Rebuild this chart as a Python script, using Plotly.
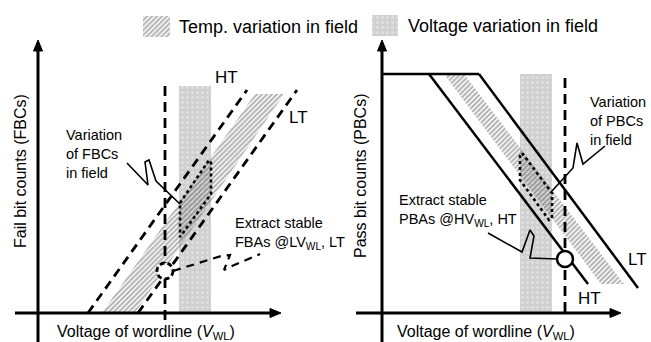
import plotly.graph_objects as go

FONT = "Liberation Sans, Arial, sans-serif"

# ---- schematic geometry (pixel-like data coordinates, y downward) ----
# Left panel (FBCs)
L_axis_x = [38, 38]; L_axis_y = [342, 40]
L_xaxis_x = [15, 281]; L_xaxis_y = [313, 313]
L_vband_x = [179, 211, 211, 179, 179]; L_vband_y = [86, 86, 313, 313, 86]
L_tband_x = [102, 135, 284, 255, 102]; L_tband_y = [313, 313, 94, 94, 313]
L_ht_x = [88, 247]; L_ht_y = [313, 90]
L_lt_x = [138, 297]; L_lt_y = [313, 90]
L_vline_x = [165, 165]; L_vline_y = [86, 320]
L_dot_x = [180, 209, 211, 211, 180, 180]; L_dot_y = [203, 160, 163, 194, 237, 203]
L_call1_x = [127, 148, 145, 149, 156, 180]; L_call1_y = [163, 185, 162, 160, 181, 204]
L_call2_x = [173, 221, 230, 224, 232, 260]; L_call2_y = [271, 256, 255, 270, 266, 254]
L_circle = (165, 271, 8)

# Right panel (PBCs)
R_axis_x = [382, 382]; R_axis_y = [342, 40]
R_xaxis_x = [356, 621]; R_xaxis_y = [313, 313]
R_vband_x = [520, 552, 552, 520, 520]; R_vband_y = [74, 74, 313, 313, 74]
R_tband_x = [444, 464, 624, 601, 444]; R_tband_y = [74, 74, 284, 284, 74]
R_plateau_x = [382, 479]; R_plateau_y = [74, 74]
R_ht_x = [429, 588]; R_ht_y = [74, 284]
R_lt_x = [479, 638]; R_lt_y = [74, 288]
R_vline_x = [565, 565]; R_vline_y = [78, 313]
R_dot_x = [522, 552, 552, 549, 520, 520, 522]; R_dot_y = [153, 193, 218, 220, 180, 156, 153]
R_call1_x = [552, 573, 577, 583, 605]; R_call1_y = [191, 168, 143, 164, 146]
R_call2_x = [488, 522, 530, 534, 530, 558]; R_call2_y = [233, 252, 230, 236, 258, 259]
R_circle = (565, 259, 8)

# Legend swatches
LG_t_x = [143, 170, 170, 143, 143]; LG_t_y = [16, 16, 37, 37, 16]
LG_v_x = [372, 398, 398, 372, 372]; LG_v_y = [15, 15, 36, 36, 15]

HATCH = dict(shape="/", fgcolor="#5e5e5e", size=3.5, solidity=0.55)
DOTS = dict(shape=".", bgcolor="#d0d0d0", fgcolor="#f2f2f2", size=5, solidity=0.25)
HEAD_LEN, HEAD_HALF = 11, 4.5

fig = go.Figure()

def poly(x, y, pattern):
    fig.add_trace(go.Scatter(x=x, y=y, mode="lines", fill="toself",
                             line=dict(width=0, color="rgba(0,0,0,0)"),
                             fillcolor="rgba(0,0,0,0)", fillpattern=pattern,
                             hoverinfo="skip"))

def line(x, y, width=2.5, dash="solid", color="black"):
    fig.add_trace(go.Scatter(x=x, y=y, mode="lines",
                             line=dict(width=width, dash=dash, color=color),
                             hoverinfo="skip"))

# bands
poly(L_vband_x, L_vband_y, DOTS)
poly(L_tband_x, L_tband_y, HATCH)
poly(R_vband_x, R_vband_y, DOTS)
poly(R_tband_x, R_tband_y, HATCH)
poly(LG_t_x, LG_t_y, HATCH)
poly(LG_v_x, LG_v_y, DOTS)

# left panel lines
line(L_ht_x, L_ht_y, 2.8, "9px,6px")
line(L_lt_x, L_lt_y, 2.8, "9px,6px")
line(L_vline_x, L_vline_y, 2.8, "10px,6px")
line(L_dot_x, L_dot_y, 2.6, "dot")
line(L_call1_x, L_call1_y, 1.6)
line(L_call2_x, L_call2_y, 2.2, "8px,6px")

# right panel lines
line(R_plateau_x, R_plateau_y, 2.5)
line(R_ht_x, R_ht_y, 2.5)
line(R_lt_x, R_lt_y, 2.5)
line(R_vline_x, R_vline_y, 2.8, "10px,6px")
line(R_dot_x, R_dot_y, 2.6, "dot")
line(R_call1_x, R_call1_y, 1.6)
line(R_call2_x, R_call2_y, 1.6)

# axes: shafts + filled triangular arrowheads derived from the axis end points
for ax_x, ax_y in [(L_axis_x, L_axis_y), (L_xaxis_x, L_xaxis_y),
                   (R_axis_x, R_axis_y), (R_xaxis_x, R_xaxis_y)]:
    tx, ty = ax_x[1], ax_y[1]
    if ax_x[0] == ax_x[1]:  # vertical axis, arrow points up
        sx, sy = [ax_x[0], tx], [ax_y[0], ty + HEAD_LEN - 1]
        hx = [tx, tx - HEAD_HALF, tx + HEAD_HALF, tx]
        hy = [ty, ty + HEAD_LEN, ty + HEAD_LEN, ty]
    else:  # horizontal axis, arrow points right
        sx, sy = [ax_x[0], tx - HEAD_LEN + 1], [ax_y[0], ty]
        hx = [tx, tx - HEAD_LEN, tx - HEAD_LEN, tx]
        hy = [ty, ty - HEAD_HALF, ty + HEAD_HALF, ty]
    line(sx, sy, 3)
    fig.add_trace(go.Scatter(x=hx, y=hy, mode="lines", fill="toself",
                             line=dict(width=1, color="black"), fillcolor="black",
                             hoverinfo="skip"))

# circles
cx, cy, r = L_circle
fig.add_shape(type="circle", xref="x", yref="y", x0=cx - r, x1=cx + r, y0=cy - r, y1=cy + r,
              line=dict(color="black", width=2.8, dash="5px,3px"), fillcolor="white")
cx, cy, r = R_circle
fig.add_shape(type="circle", xref="x", yref="y", x0=cx - r, x1=cx + r, y0=cy - r, y1=cy + r,
              line=dict(color="black", width=2.5), fillcolor="white")

def text(x, y, s, size=14, xanchor="left", angle=0):
    fig.add_annotation(x=x, y=y, xref="x", yref="y", text=s, showarrow=False,
                       xanchor=xanchor, yanchor="middle", align="left",
                       textangle=angle, font=dict(family=FONT, size=size, color="black"))

# legend text
text(177, 27, "Temp. variation in field", 18)
text(406, 26, "Voltage variation in field", 18)

# left panel text
text(20, 171, "Fail bit counts (FBCs)", 16, "center", -90)
text(146, 332, "Voltage of wordline (<i>V</i><sub>WL</sub>)", 16, "center")
text(213, 77, "HT", 17)
text(287, 117, "LT", 17)
text(64, 154, "Variation<br>of FBCs<br>in field", 14.5)
text(233, 233, "Extract stable<br>FBAs @LV<sub>WL</sub>, LT", 14.5)

# right panel text
text(360, 176, "Pass bit counts (PBCs)", 16, "center", -90)
text(486, 332, "Voltage of wordline (<i>V</i><sub>WL</sub>)", 16, "center")
text(576, 298, "HT", 17)
text(626, 259, "LT", 17)
text(588, 121, "Variation<br>of PBCs<br>in field", 14.5)
text(397, 210, "Extract stable<br>PBAs @HV<sub>WL</sub>, HT", 14.5)

fig.update_layout(
    width=651, height=342, margin=dict(l=0, r=0, t=0, b=0),
    paper_bgcolor="white", plot_bgcolor="white", showlegend=False,
    xaxis=dict(range=[0, 651], visible=False, fixedrange=True),
    yaxis=dict(range=[342, 0], visible=False, fixedrange=True),
)

fig.write_html("out.html")
